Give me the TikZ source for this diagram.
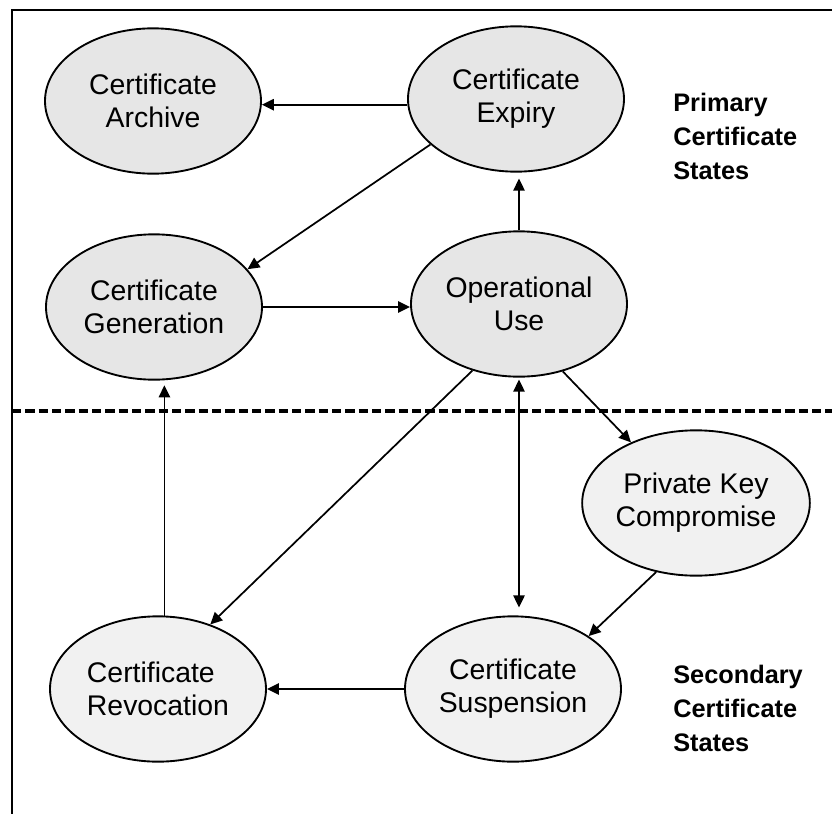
\documentclass[tikz,border=0pt]{standalone}
\usepackage{amsmath}
\usepackage{fontspec}
\setmainfont{Liberation Sans}
\usepackage{tikz}
\usetikzlibrary{shapes.geometric,arrows.meta}

\definecolor{primfill}{RGB}{230,230,230}
\definecolor{secfill}{RGB}{241,241,241}

\tikzset{
  state/.style={ellipse, draw, line width=1.4pt, minimum width=162pt, minimum height=109pt,
    inner sep=0pt, align=center, font=\fontsize{21.3}{24.8}\selectfont},
  conn/.style={line width=1.3pt, -{Triangle[length=9pt,width=8.5pt]}},
  dconn/.style={line width=1.3pt, {Triangle[length=9pt,width=8.5pt]}-{Triangle[length=9pt,width=8.5pt]}},
  grouplabel/.style={anchor=west, inner sep=0pt, align=left, font=\fontsize{19}{25.5}\selectfont\bfseries}
}

\begin{document}
\begin{tikzpicture}[x=0.75pt,y=0.75pt,yscale=-1,xscale=1]
\useasboundingbox (0,0) rectangle (832,814);

%Straight Lines: frame
\draw [line width=1.5pt] (12,814) -- (12,10) -- (832,10) ;
%Straight Lines: divider
\draw [line width=2.4pt, dash pattern={on 7pt off 3pt}] (12,411) -- (832,411) ;

%Shape: Ellipse
\node [state, fill=primfill] (archive) at (153,101) {Certificate\\Archive};
%Shape: Ellipse
\node [state, fill=primfill] (expiry) at (516,99) {Certificate\\Expiry};
%Shape: Ellipse
\node [state, fill=primfill] (gen) at (154,307) {Certificate\\Generation};
%Shape: Ellipse
\node [state, fill=primfill] (ops) at (519,304) {Operational\\Use};
%Shape: Ellipse
\node [state, fill=secfill] (pkc) at (696,503) {Private Key\\Compromise};
%Shape: Ellipse
\node [state, fill=secfill, align=left] (revo) at (158,689) {Certificate\\Revocation};
%Shape: Ellipse
\node [state, fill=secfill] (susp) at (513,689) {Certificate\\Suspension};

% Text Node
\node [grouplabel] (primary) at (673,136) {Primary\\Certificate\\States};
% Text Node
\node [grouplabel] (secondary) at (673,708) {Secondary\\Certificate\\States};

%Straight Lines
\draw [conn] (expiry.183) -- (expiry.183 -| archive.east) ;
\draw [conn] (expiry.208) -- (gen.22) ;
\draw [conn] (gen.east) -- (gen.east -| ops.west) ;
\draw [conn, shorten >=4.5pt] (ops.north) -- (ops.north |- expiry.south) ;
\draw [dconn, shorten <=1.5pt, shorten >=6pt] (ops.south) -- (ops.south |- susp.north) ;
\draw [conn] (ops.235) -- (revo.51) ;
\draw [conn] (ops.303) -- (pkc.137) ;
\draw [conn] (pkc.240) -- (susp.35) ;
\draw [conn] (susp.west) -- (revo.east) ;
\draw [conn, shorten >=3.5pt] (revo.85) -- (revo.85 |- gen.south) ;

\end{tikzpicture}
\end{document}
